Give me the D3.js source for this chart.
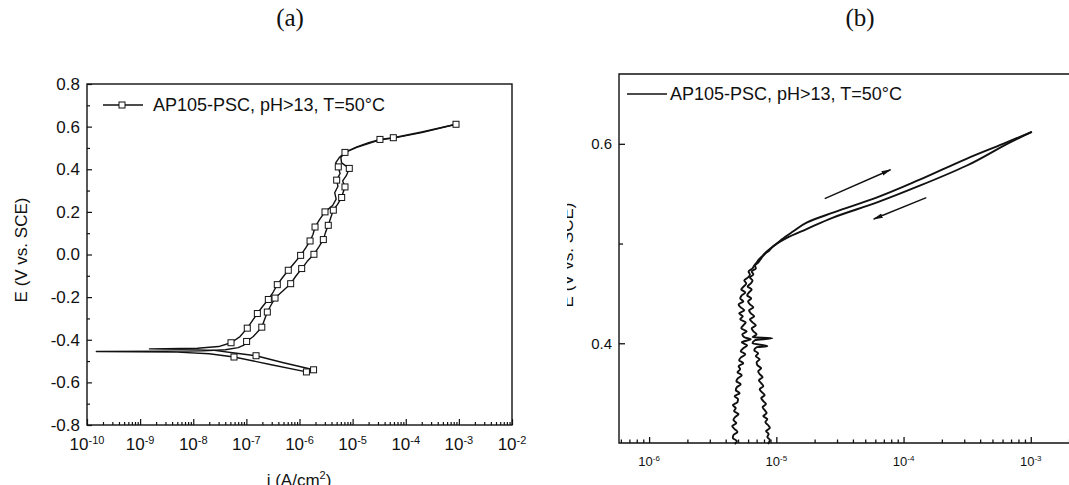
<!DOCTYPE html>
<meta charset="utf-8">
<body style="margin:0;background:#fff">
<svg id="chart" width="1069" height="485"></svg>
<script src="https://cdn.jsdelivr.net/npm/d3@7/dist/d3.min.js"></script>
<script>
// panel titles and legend
var panelTitles = ["(a)", "(b)"];
var legendText = "AP105-PSC, pH>13, T=50°C";

// ---- panel (a): cyclic polarisation, [i (A/cm2), E (V vs SCE)] ----
var aYTicks = [-0.8, -0.6, -0.4, -0.2, 0.0, 0.2, 0.4, 0.6, 0.8];
var aYMinor = [-0.7, -0.5, -0.3, -0.1, 0.1, 0.3, 0.5, 0.7];
var aDecades = [-10, -9, -8, -7, -6, -5, -4, -3, -2];

var aForward = [[1.35e-6,-0.551],[2.8e-7,-0.516],[5.85e-8,-0.481],[2.0e-8,-0.466],[5e-9,-0.458],
  [1.5e-10,-0.455],[3e-9,-0.454],[1.5e-8,-0.452],[4e-8,-0.447],[7e-8,-0.437],[9e-8,-0.425],
  [1.01e-7,-0.408],[1.35e-7,-0.385],[1.95e-7,-0.341],[2.2e-7,-0.305],[2.48e-7,-0.270],[2.9e-7,-0.238],
  [3.46e-7,-0.2045],[4.9e-7,-0.170],[6.82e-7,-0.137],[8.5e-7,-0.102],[1.10e-6,-0.066],[1.4e-6,-0.032],
  [1.87e-6,0.001],[2.3e-6,0.035],[2.81e-6,0.070],[3.1e-6,0.105],[3.48e-6,0.137],[3.9e-6,0.175],
  [4.33e-6,0.208],[5.2e-6,0.235],[6.22e-6,0.2675],[6.6e-6,0.290],[7.18e-6,0.317],[6.5e-6,0.345],
  [7.6e-6,0.370],[8.65e-6,0.404],[6.2e-6,0.430],[6.0e-6,0.455],[7.18e-6,0.479],[1.2e-5,0.505],
  [2.0e-5,0.525],[3.27e-5,0.540],[5.83e-5,0.548],[2.0e-4,0.575],[8.83e-4,0.611]];
var aForwardMarks = [[1.35e-6,-0.551],[5.85e-8,-0.481],[1.01e-7,-0.408],[1.95e-7,-0.341],[2.48e-7,-0.270],
  [3.46e-7,-0.2045],[6.82e-7,-0.137],[1.10e-6,-0.066],[1.87e-6,0.001],[2.81e-6,0.070],[3.48e-6,0.137],
  [4.33e-6,0.208],[6.22e-6,0.2675],[7.18e-6,0.317],[8.65e-6,0.404],[7.18e-6,0.479],[3.27e-5,0.540],
  [5.83e-5,0.548],[8.83e-4,0.611]];

var aReverse = [[8.83e-4,0.611],[2.0e-4,0.572],[5.83e-5,0.546],[3.27e-5,0.538],[1.2e-5,0.503],
  [7.18e-6,0.479],[5.6e-6,0.455],[4.8e-6,0.430],[5.37e-6,0.411],[5.8e-6,0.380],[5.01e-6,0.349],
  [5.3e-6,0.320],[4.6e-6,0.290],[4.9e-6,0.260],[4.2e-6,0.230],[3.02e-6,0.200],[2.4e-6,0.165],
  [1.96e-6,0.129],[1.8e-6,0.095],[1.58e-6,0.0635],[1.3e-6,0.030],[1.05e-6,-0.004],[8.0e-7,-0.040],
  [6.15e-7,-0.074],[4.8e-7,-0.108],[3.82e-7,-0.1415],[3.2e-7,-0.176],[2.59e-7,-0.211],[2.0e-7,-0.245],
  [1.61e-7,-0.277],[1.3e-7,-0.310],[1.04e-7,-0.3456],[7.6e-8,-0.385],[5.14e-8,-0.414],[3.0e-8,-0.432],
  [1.2e-8,-0.440],[1.5e-9,-0.443],[6e-9,-0.445],[2.5e-8,-0.450],[6e-8,-0.462],[1.52e-7,-0.475],
  [5e-7,-0.508],[1.84e-6,-0.541]];
var aReverseMarks = [[5.37e-6,0.411],[5.01e-6,0.349],[3.02e-6,0.200],[1.96e-6,0.129],[1.58e-6,0.0635],
  [1.05e-6,-0.004],[6.15e-7,-0.074],[3.82e-7,-0.1415],[2.59e-7,-0.211],[1.61e-7,-0.277],[1.04e-7,-0.3456],
  [5.14e-8,-0.414],[1.52e-7,-0.475],[1.84e-6,-0.541]];

// ---- panel (b): zoom of the anodic end, [i (A/cm2), E (V vs SCE)] ----
var bYTicks = [0.4, 0.6];
var bYMinor = [0.5];
var bDecades = [-6, -5, -4, -3, -2];
var bLabelDecades = [-6, -5, -4, -3];

var bForward = [[4.7e-6,0.299],[4.9e-6,0.302],[4.55e-6,0.305],[4.6e-6,0.308],[4.95e-6,0.311],[4.7e-6,0.314],
  [4.5e-6,0.317],[4.85e-6,0.320],[4.6e-6,0.323],[4.75e-6,0.326],[5.05e-6,0.329],[4.65e-6,0.332],
  [4.8e-6,0.335],[4.55e-6,0.338],[4.95e-6,0.341],[5.0e-6,0.344],[4.7e-6,0.347],[5.15e-6,0.350],
  [4.8e-6,0.353],[4.9e-6,0.356],[5.25e-6,0.359],[4.85e-6,0.362],[5.0e-6,0.365],[5.35e-6,0.368],
  [4.95e-6,0.371],[5.2e-6,0.374],[5.05e-6,0.377],[5.5e-6,0.380],[5.1e-6,0.383],[5.3e-6,0.386],
  [5.7e-6,0.389],[5.25e-6,0.392],[5.5e-6,0.395],[5.9e-6,0.398],[5.35e-6,0.401],[6.3e-6,0.404],
  [5.6e-6,0.406],[5.4e-6,0.409],[5.85e-6,0.412],[5.3e-6,0.415],[5.5e-6,0.418],[5.75e-6,0.421],
  [5.2e-6,0.424],[5.45e-6,0.427],[5.1e-6,0.430],[5.6e-6,0.433],[5.25e-6,0.436],[5.05e-6,0.439],
  [5.5e-6,0.442],[5.2e-6,0.445],[5.35e-6,0.448],[5.7e-6,0.451],[5.3e-6,0.454],[5.55e-6,0.457],
  [5.8e-6,0.460],[5.6e-6,0.463],[6.0e-6,0.466],[6.2e-6,0.469],[6.05e-6,0.472],[6.5e-6,0.475],
  [6.7e-6,0.478],[7.0e-6,0.481],[7.3e-6,0.484],[7.7e-6,0.487],[8.1e-6,0.490],[8.6e-6,0.493],
  [9.2e-6,0.496],[1.01e-5,0.500],[1.10e-5,0.504],[1.35e-5,0.512],[1.73e-5,0.521],[2.79e-5,0.531],
  [6.12e-5,0.546],[1.34e-4,0.564],[3.12e-4,0.585],[6.05e-4,0.600],[1.02e-3,0.612]];

var bReverse = [[1.02e-3,0.612],[7.26e-4,0.603],[3.12e-4,0.578],[1.34e-4,0.558],[6.12e-5,0.541],
  [2.79e-5,0.526],[1.73e-5,0.5145],[1.20e-5,0.5055],[9.4e-6,0.497],[8.8e-6,0.493],[8.2e-6,0.490],
  [7.8e-6,0.487],[7.5e-6,0.484],[7.2e-6,0.481],[6.8e-6,0.478],[6.9e-6,0.475],[6.4e-6,0.472],
  [6.6e-6,0.469],[6.2e-6,0.466],[6.5e-6,0.463],[6.3e-6,0.460],[5.95e-6,0.457],[6.4e-6,0.454],
  [6.1e-6,0.451],[5.9e-6,0.448],[6.35e-6,0.445],[6.0e-6,0.442],[6.2e-6,0.439],[6.6e-6,0.436],
  [6.1e-6,0.433],[6.3e-6,0.430],[6.7e-6,0.427],[6.2e-6,0.424],[6.5e-6,0.421],[6.9e-6,0.418],
  [6.4e-6,0.415],[6.6e-6,0.412],[7.0e-6,0.409],[6.5e-6,0.406],[9.3e-6,0.405],[6.8e-6,0.403],
  [6.5e-6,0.400],[8.5e-6,0.397],[7.0e-6,0.396],[6.7e-6,0.393],[7.2e-6,0.390],[6.9e-6,0.387],
  [7.4e-6,0.384],[7.0e-6,0.381],[7.1e-6,0.378],[7.6e-6,0.375],[7.2e-6,0.372],[7.4e-6,0.369],
  [7.8e-6,0.366],[7.3e-6,0.363],[7.6e-6,0.360],[7.9e-6,0.357],[7.4e-6,0.354],[7.7e-6,0.351],
  [8.1e-6,0.348],[7.6e-6,0.345],[7.9e-6,0.342],[8.3e-6,0.339],[7.8e-6,0.336],[8.1e-6,0.333],
  [8.4e-6,0.330],[7.9e-6,0.327],[8.5e-6,0.324],[8.2e-6,0.321],[8.6e-6,0.318],[8.9e-6,0.315],
  [8.3e-6,0.312],[8.7e-6,0.309],[8.5e-6,0.306],[8.9e-6,0.303],[8.6e-6,0.299]];

// scan direction arrows: [start, end]
var bArrows = [[[2.40e-5,0.545],[7.9e-5,0.574]], [[1.51e-4,0.546],[5.83e-5,0.5246]]];

var sans = "'Liberation Sans', Arial, sans-serif";
var ink = "#111";
var svg = d3.select("#chart");

svg.append("defs").append("marker")
  .attr("id", "arrowhead")
  .attr("viewBox", "0 0 10 6")
  .attr("refX", 9).attr("refY", 3)
  .attr("markerWidth", 10).attr("markerHeight", 6)
  .attr("markerUnits", "userSpaceOnUse")
  .attr("orient", "auto")
  .append("path").attr("d", "M0,0.6L10,3L0,5.4Z").attr("fill", ink);

function minorLog(decades) {
  var out = [];
  decades.slice(0, -1).forEach(function(d) {
    for (var k = 2; k <= 9; k++) out.push(k * Math.pow(10, d));
  });
  return out;
}

function bare(g) {
  g.selectAll(".domain").remove();
  g.selectAll("text").remove();
}

function powLabels(g, decades, scale, y, base, sup, rise) {
  decades.forEach(function(d) {
    var t = g.append("text")
      .attr("x", scale(Math.pow(10, d)))
      .attr("y", y)
      .attr("text-anchor", "middle")
      .attr("font-family", sans)
      .attr("fill", ink);
    t.append("tspan").attr("font-size", base).text("10");
    t.append("tspan").attr("font-size", sup).attr("dy", -rise).text(d);
  });
}

// ================= panel (a) =================
var ax = d3.scaleLog().domain([1e-10, 1e-2]).range([87, 512]);
var ay = d3.scaleLinear().domain([-0.8, 0.8]).range([425, 84]);
var ga = svg.append("g");

ga.append("g").attr("transform", "translate(0,425)")
  .call(d3.axisBottom(ax).tickValues(aDecades.map(function(d) { return Math.pow(10, d); }))
    .tickSize(-6).tickSizeOuter(0))
  .call(bare);
ga.append("g").attr("transform", "translate(0,425)")
  .call(d3.axisBottom(ax).tickValues(minorLog(aDecades)).tickSize(-3).tickSizeOuter(0))
  .call(bare);
ga.append("g").attr("transform", "translate(87,0)")
  .call(d3.axisLeft(ay).tickValues(aYTicks).tickSize(-5).tickSizeOuter(0).tickPadding(7)
    .tickFormat(function(d) { return d.toFixed(1); }))
  .call(function(g) { g.select(".domain").remove(); })
  .selectAll("text").attr("font-family", sans).attr("font-size", 17).attr("fill", ink);
ga.append("g").attr("transform", "translate(87,0)")
  .call(d3.axisLeft(ay).tickValues(aYMinor).tickSize(-3).tickSizeOuter(0))
  .call(bare);
ga.selectAll(".tick line").attr("stroke", ink).attr("stroke-width", 1.2);

ga.append("rect").attr("x", 87).attr("y", 84).attr("width", 425).attr("height", 341)
  .attr("fill", "none").attr("stroke", ink).attr("stroke-width", 1.4);

powLabels(ga, aDecades, ax, 450, 17, 11, 6);

var aLine = d3.line().x(function(d) { return ax(d[0]); }).y(function(d) { return ay(d[1]); });
[aForward, aReverse].forEach(function(s) {
  ga.append("path").datum(s).attr("d", aLine)
    .attr("fill", "none").attr("stroke", ink).attr("stroke-width", 1.4).attr("stroke-linejoin", "round");
});
ga.selectAll("rect.mk").data(aForwardMarks.concat(aReverseMarks)).enter().append("rect")
  .attr("class", "mk")
  .attr("x", function(d) { return ax(d[0]) - 3; })
  .attr("y", function(d) { return ay(d[1]) - 3; })
  .attr("width", 6).attr("height", 6)
  .attr("fill", "#fff").attr("stroke", ink).attr("stroke-width", 1);

// legend (a)
ga.append("line").attr("x1", 103).attr("x2", 143).attr("y1", 105).attr("y2", 105)
  .attr("stroke", ink).attr("stroke-width", 1.4);
ga.append("rect").attr("x", 119).attr("y", 102).attr("width", 6).attr("height", 6)
  .attr("fill", "#fff").attr("stroke", ink);
ga.append("text").attr("x", 153).attr("y", 111).attr("font-family", sans).attr("font-size", 18)
  .attr("fill", ink).text(legendText);

ga.append("text").attr("transform", "translate(27,250) rotate(-90)")
  .attr("text-anchor", "middle").attr("font-family", sans).attr("font-size", 17).attr("fill", ink)
  .text("E (V vs. SCE)");
var axl = ga.append("text").attr("x", 299).attr("y", 486).attr("text-anchor", "middle")
  .attr("font-family", sans).attr("font-size", 17).attr("fill", ink);
axl.append("tspan").text("i (A/cm");
axl.append("tspan").attr("font-size", 11).attr("dy", -7).text("2");
axl.append("tspan").attr("dy", 7).text(")");

// ================= panel (b) =================
var bx = d3.scaleLog().domain([5.8e-7, 1e-2]).range([619, 1158]);
var by = d3.scaleLinear().domain([0.3, 0.67]).range([443, 74]);
var gb = svg.append("g");

gb.append("g").attr("transform", "translate(0,443)")
  .call(d3.axisBottom(bx).tickValues(bDecades.map(function(d) { return Math.pow(10, d); }))
    .tickSize(-6).tickSizeOuter(0))
  .call(bare);
gb.append("g").attr("transform", "translate(0,443)")
  .call(d3.axisBottom(bx).tickValues(minorLog([-7].concat(bDecades)).filter(function(v) { return v >= 5.8e-7; }))
    .tickSize(-3.5).tickSizeOuter(0))
  .call(bare);
gb.append("g").attr("transform", "translate(619,0)")
  .call(d3.axisLeft(by).tickValues(bYTicks).tickSize(-6).tickSizeOuter(0).tickPadding(7)
    .tickFormat(function(d) { return d.toFixed(1); }))
  .call(function(g) { g.select(".domain").remove(); })
  .selectAll("text").attr("font-family", sans).attr("font-size", 15).attr("fill", ink);
gb.append("g").attr("transform", "translate(619,0)")
  .call(d3.axisLeft(by).tickValues(bYMinor).tickSize(-4).tickSizeOuter(0))
  .call(bare);
gb.selectAll(".tick line").attr("stroke", ink).attr("stroke-width", 1.3);

gb.append("path").attr("d", "M1158,74H619V443H1158")
  .attr("fill", "none").attr("stroke", ink).attr("stroke-width", 1.4);

powLabels(gb, bLabelDecades, bx, 466, 13, 8, 5);

var bLine = d3.line().curve(d3.curveMonotoneY)
  .x(function(d) { return bx(d[0]); }).y(function(d) { return by(d[1]); });
[bForward, bReverse].forEach(function(s) {
  gb.append("path").datum(s).attr("d", bLine)
    .attr("fill", "none").attr("stroke", ink).attr("stroke-width", 1.9).attr("stroke-linejoin", "round");
});
bArrows.forEach(function(a) {
  gb.append("line")
    .attr("x1", bx(a[0][0])).attr("y1", by(a[0][1]))
    .attr("x2", bx(a[1][0])).attr("y2", by(a[1][1]))
    .attr("stroke", ink).attr("stroke-width", 1.4).attr("marker-end", "url(#arrowhead)");
});

// legend (b)
gb.append("line").attr("x1", 627).attr("x2", 667).attr("y1", 94).attr("y2", 94)
  .attr("stroke", ink).attr("stroke-width", 1.3);
gb.append("text").attr("x", 670).attr("y", 100).attr("font-family", sans).attr("font-size", 18)
  .attr("fill", ink).text(legendText);

// y title of (b) is cut off in the source figure
gb.append("clipPath").attr("id", "ycut").append("rect")
  .attr("x", 567).attr("y", 150).attr("width", 20).attr("height", 220);
gb.append("g").attr("clip-path", "url(#ycut)")
  .append("text").attr("transform", "translate(573,255) rotate(-90)")
  .attr("text-anchor", "middle").attr("font-family", sans).attr("font-size", 17).attr("fill", ink)
  .text("E (V vs. SCE)");

// panel titles
svg.selectAll("text.ptitle").data(panelTitles).enter().append("text")
  .attr("class", "ptitle")
  .attr("x", function(d, i) { return i === 0 ? 290 : 860; })
  .attr("y", 26)
  .attr("text-anchor", "middle")
  .attr("font-family", "'Liberation Serif', 'Times New Roman', serif")
  .attr("font-size", 25).attr("fill", ink)
  .text(function(d) { return d; });
</script>
</body>
